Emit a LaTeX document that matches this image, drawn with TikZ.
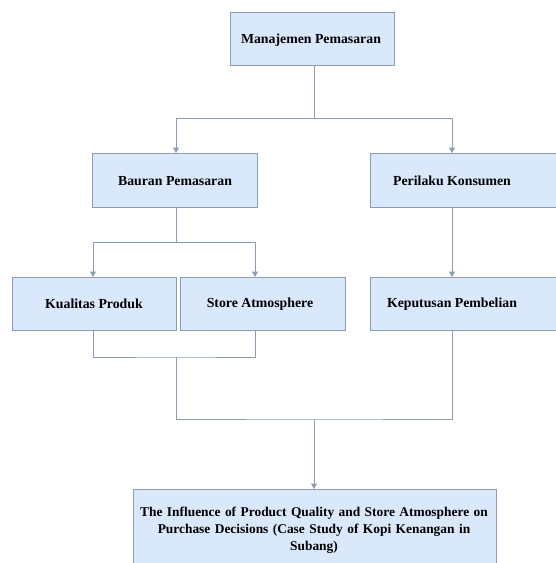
\documentclass[tikz,border=0pt]{standalone}
\usepackage{fontspec}
\setmainfont{Liberation Serif}
\usetikzlibrary{arrows.meta}
\definecolor{boxfill}{HTML}{DAE8FC}
\definecolor{boxline}{HTML}{8A9DB4}
\definecolor{conn}{HTML}{8A9DB4}
\tikzset{
  box/.style={draw=boxline, fill=boxfill, line width=1pt, inner sep=0pt},
  lbl/.style={font=\fontsize{13.8}{17}\selectfont\bfseries, align=center, inner sep=0pt},
  lblwide/.style={lbl, font=\fontsize{13.4}{17}\selectfont\bfseries},
  link/.style={draw=conn, line width=1pt},
  arr/.style={link, -{Triangle[length=5.5pt,width=6pt]}}
}
\begin{document}
\begin{tikzpicture}[x=1pt,y=-1pt]
\clip (0,0) rectangle (556,563);
\fill[white] (0,0) rectangle (556,563);
% boxes
\node[box, anchor=north west, minimum width=164pt, minimum height=53pt] (mp) at (230,12) {};
\node[box, anchor=north west, minimum width=165pt, minimum height=54pt] (bp) at (92,153) {};
\node[box, anchor=north west, minimum width=200pt, minimum height=54pt] (pk) at (370,153) {};
\node[box, anchor=north west, minimum width=164pt, minimum height=53pt] (kq) at (12,277) {};
\node[box, anchor=north west, minimum width=165pt, minimum height=53pt] (sa) at (180,277) {};
\node[box, anchor=north west, minimum width=200pt, minimum height=53pt] (kb) at (370,277) {};
\node[box, anchor=north west, minimum width=363pt, minimum height=82pt] (inf) at (133,489) {};
% texts
\node[lbl] (mpt) at (311,40) {Manajemen Pemasaran};
\node[lbl] (bpt) at (175,181) {Bauran Pemasaran};
\node[lbl] (pkt) at (452,181) {Perilaku Konsumen};
\node[lbl] (kqt) at (94,304) {Kualitas Produk};
\node[lbl] (sat) at (260,304) {Store Atmosphere};
\node[lbl] (kbt) at (452,304) {Keputusan Pembelian};
\node[lblwide, text width=360pt] (inft) at (314,530) {The Influence of Product Quality and Store Atmosphere on\\Purchase Decisions (Case Study of Kopi Kenangan in\\Subang)};
% junction coordinates
\coordinate (j1) at (314,118);
\coordinate (j2) at (176,242);
\coordinate (j3) at (176,357);
\coordinate (j4) at (314,419);
% connectors
\draw[link] (mp.south -| j1) -- (j1);
\draw[arr] (j1) -| (bp.north -| j2);
\draw[arr] (j1) -| (pk.north -| pkt);
\draw[link] (bp.south -| j2) -- (j2);
\draw[arr] (j2) -| ([xshift=-1pt]kq.north -| kqt);
\draw[arr] (j2) -| ([xshift=-5pt]sa.north -| sat);
\draw[arr] (pk.south -| pkt) -- (kb.north -| pkt);
\draw[link] ([xshift=-1pt]kq.south -| kqt) |- (j3) -| ([xshift=-5pt]sa.south -| sat);
\draw[link] (j3) |- (j4) -| (kb.south -| kbt);
\draw[arr] (j4) -- (inf.north -| j4);
\end{tikzpicture}
\end{document}
